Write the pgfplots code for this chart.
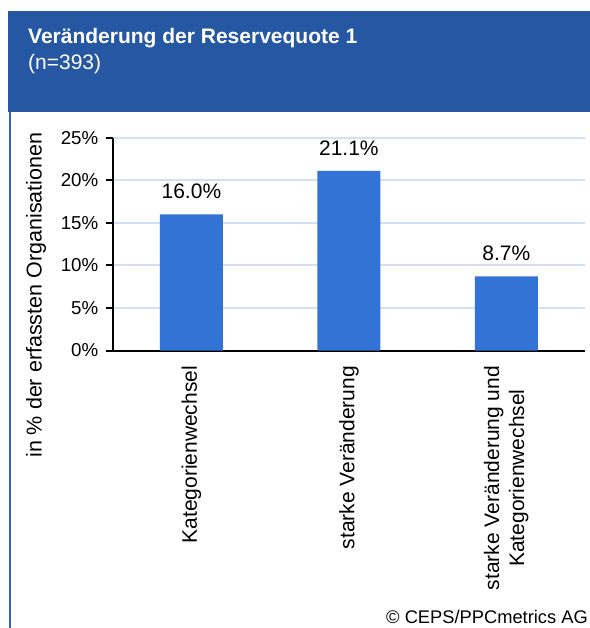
\documentclass[border=0pt]{standalone}
\usepackage{fontspec}
\setmainfont{Liberation Sans}
\usepackage{pgfplots}
\pgfplotsset{compat=1.18}
\definecolor{headblue}{HTML}{2557A2}
\definecolor{barblue}{HTML}{3273D5}
\definecolor{gridblue}{HTML}{D3E0F3}
\definecolor{frameblue}{HTML}{2F63BD}
\begin{document}
\begin{tikzpicture}
  \fill[white] (0,0) rectangle (590bp,-628bp);
  \useasboundingbox (0,0) rectangle (590bp,-628bp);
  % header band and left frame
  \fill[headblue] (8bp,-11bp) rectangle (590bp,-112bp);
  \fill[frameblue] (8.5bp,-112bp) rectangle (11bp,-628bp);
  \node[anchor=base west, text=white, inner sep=0,
        font=\fontsize{21bp}{25bp}\selectfont\bfseries]
    at (28bp,-43bp) {Veränderung der Reservequote 1};
  \node[anchor=base west, text=white, inner sep=0,
        font=\fontsize{21bp}{25bp}\selectfont]
    at (28bp,-69bp) {(n=393)};
  \begin{axis}[
      at={(112.7bp,-350.5bp)}, anchor=south west,
      scale only axis, width=472.3bp, height=212.8bp,
      ybar, bar width=63bp,
      xmin=-0.5, xmax=2.5, ymin=0, ymax=25,
      axis x line*=bottom, axis y line*=left,
      axis line style={black, line width=2bp, -},
      xtick={0,1,2},
      xticklabels={Kategorienwechsel, starke Veränderung,
                   {starke Veränderung und\\Kategorienwechsel}},
      x tick style={draw=none},
      xticklabel shift=5bp,
      xticklabel style={rotate=90, anchor=east, align=center,
                        font=\fontsize{21bp}{25bp}\selectfont},
      ytick={0,5,10,15,20,25},
      yticklabels={0\%,5\%,10\%,15\%,20\%,25\%},
      ytick align=outside, ytick pos=left,
      y tick style={draw=black, line width=2bp},
      major tick length=7bp,
      yticklabel shift=4bp,
      yticklabel style={font=\fontsize{18.7bp}{22bp}\selectfont},
      ymajorgrids, grid style={gridblue, line width=1.8bp},
      ylabel={in \% der erfassten Organisationen},
      ylabel style={at={(axis description cs:-0.1624,0.26)}, anchor=center,
                    font=\fontsize{21.5bp}{25bp}\selectfont},
      /pgf/number format/assume math mode=true,
      nodes near coords={\pgfmathprintnumber[fixed,fixed zerofill,precision=1]{\pgfplotspointmeta}\%},
      nodes near coords style={font=\fontsize{21bp}{25bp}\selectfont, text=black, yshift=12bp},
      clip=false,
    ]
    \addplot[fill=barblue, draw=none] coordinates {
      (0,16.0)
      (1,21.1)
      (2,8.7)
    };
  \end{axis}
  \node[anchor=base east, inner sep=0, font=\fontsize{18.3bp}{22bp}\selectfont]
    at (588bp,-623bp) {© CEPS/PPCmetrics AG};
\end{tikzpicture}
\end{document}
